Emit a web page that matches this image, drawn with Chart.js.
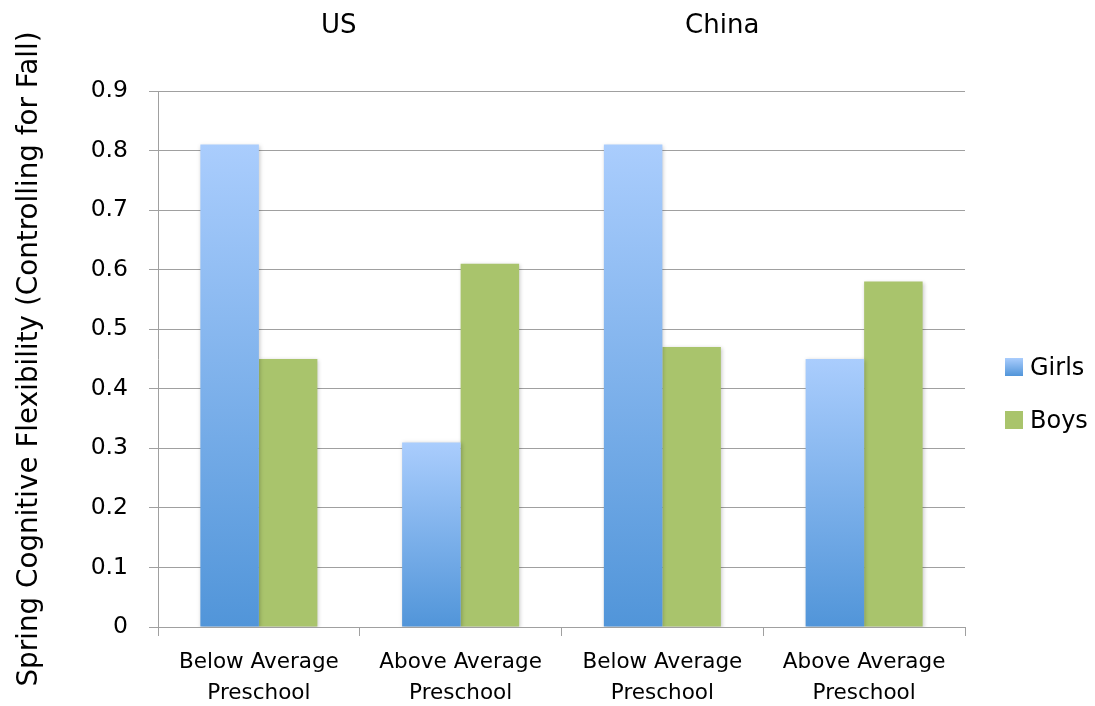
<!DOCTYPE html>
<html>
<head>
<meta charset="utf-8">
<script src="https://cdn.jsdelivr.net/npm/chart.js@4.4.1/dist/chart.umd.min.js"></script>
<style>
  html, body { margin: 0; padding: 0; background: #ffffff; }
  #wrap { width: 1095px; height: 706px; }
</style>
</head>
<body>
<div id="wrap"><canvas id="chart" width="1095" height="706"></canvas></div>
<script>
// Category labels (two lines each) and the country group each pair belongs to
const categories = [
  ['Below Average', 'Preschool'],
  ['Above Average', 'Preschool'],
  ['Below Average', 'Preschool'],
  ['Above Average', 'Preschool']
];
const groups = ['US', 'China'];
const seriesNames = ['Girls', 'Boys'];
const girls = [0.81, 0.31, 0.81, 0.45];
const boys = [0.45, 0.61, 0.47, 0.58];
const yTicks = [0, 0.1, 0.2, 0.3, 0.4, 0.5, 0.6, 0.7, 0.8, 0.9];

const FONT = 'DejaVu Sans';
const GRID = '#a0a0a0';
const GIRLS_TOP = '#aacdfd';
const GIRLS_BOTTOM = '#5195d9';
const BOYS = '#a9c46c';

// Vertical blue fade per bar, light at the top and deeper at the baseline
function girlsFill(ctx) {
  const chart = ctx.chart;
  if (!chart.chartArea || ctx.type !== 'data') return '#7fb0ec';
  const y = chart.scales.y;
  const top = y.getPixelForValue(ctx.raw);
  const base = y.getPixelForValue(0);
  const g = chart.ctx.createLinearGradient(0, top, 0, base);
  g.addColorStop(0, GIRLS_TOP);
  g.addColorStop(1, GIRLS_BOTTOM);
  return g;
}

// Soft drop shadow under the bars
const barShadow = {
  id: 'barShadow',
  beforeDatasetsDraw(chart) {
    const c = chart.ctx;
    c.save();
    c.shadowColor = 'rgba(0,0,0,0.22)';
    c.shadowBlur = 4;
    c.shadowOffsetX = 1;
    c.shadowOffsetY = 1;
  },
  afterDatasetsDraw(chart) {
    chart.ctx.restore();
  }
};

// Country headings above each pair of categories
const groupHeadings = {
  id: 'groupHeadings',
  afterDraw(chart) {
    const x = chart.scales.x;
    const c = chart.ctx;
    c.save();
    c.fillStyle = '#000';
    c.font = '26px "' + FONT + '"';
    c.textAlign = 'center';
    c.textBaseline = 'middle';
    const offsets = [-21, -41];
    groups.forEach((name, i) => {
      const cx = x.getPixelForValue(i * 2 + 0.5) + offsets[i];
      c.fillText(name, cx, 26);
    });
    c.restore();
  }
};

// Legend on the right, built from the datasets
const sideLegend = {
  id: 'sideLegend',
  afterDraw(chart) {
    const c = chart.ctx;
    const area = chart.chartArea;
    const bx = area.right + 40;
    const rows = [358, 411];
    c.save();
    c.font = '24px "' + FONT + '"';
    c.textBaseline = 'middle';
    c.textAlign = 'left';
    chart.data.datasets.forEach((ds, i) => {
      const by = rows[i];
      if (i === 0) {
        const g = c.createLinearGradient(0, by, 0, by + 18);
        g.addColorStop(0, GIRLS_TOP);
        g.addColorStop(1, GIRLS_BOTTOM);
        c.fillStyle = g;
      } else {
        c.fillStyle = BOYS;
      }
      c.fillRect(bx, by, 18, 18);
      c.fillStyle = '#000';
      c.fillText(ds.label, bx + 25, by + 11);
    });
    c.restore();
  }
};

new Chart(document.getElementById('chart'), {
  type: 'bar',
  data: {
    labels: categories,
    datasets: [
      { label: seriesNames[0], data: girls, backgroundColor: girlsFill, borderWidth: 0 },
      { label: seriesNames[1], data: boys, backgroundColor: BOYS, borderWidth: 0 }
    ]
  },
  options: {
    responsive: false,
    animation: false,
    devicePixelRatio: 1,
    layout: { padding: { top: 91, right: 130, bottom: 0, left: 0 } },
    datasets: { bar: { categoryPercentage: 0.58, barPercentage: 1.0 } },
    plugins: {
      legend: { display: false },
      tooltip: { enabled: false }
    },
    scales: {
      x: {
        grid: {
          display: true,
          offset: true,
          drawOnChartArea: false,
          drawTicks: true,
          tickLength: 9,
          color: GRID,
          lineWidth: 1
        },
        border: { display: true, color: GRID, width: 1 },
        ticks: {
          color: '#000',
          padding: 11,
          maxRotation: 0,
          autoSkip: false,
          font: { family: FONT, size: 21.5, lineHeight: 1.44 }
        },
        afterFit(scale) { scale.height = 79; }
      },
      y: {
        min: 0,
        max: 0.9,
        afterBuildTicks(scale) { scale.ticks = yTicks.map(v => ({ value: v })); },
        grid: {
          color: GRID,
          lineWidth: 1,
          drawTicks: true,
          tickLength: 9
        },
        border: { display: true, color: GRID, width: 1 },
        ticks: {
          color: '#000',
          padding: 21,
          font: { family: FONT, size: 23.5 },
          callback: v => (v === 0 ? '0' : Number(v).toFixed(1))
        },
        title: {
          display: true,
          text: 'Spring Cognitive Flexibility (Controlling for Fall)',
          color: '#000',
          font: { family: FONT, size: 27.8, lineHeight: 1.2 },
          padding: { top: 13, bottom: 0 }
        },
        afterFit(scale) { scale.width = 158; }
      }
    }
  },
  plugins: [barShadow, groupHeadings, sideLegend]
});
</script>
</body>
</html>
